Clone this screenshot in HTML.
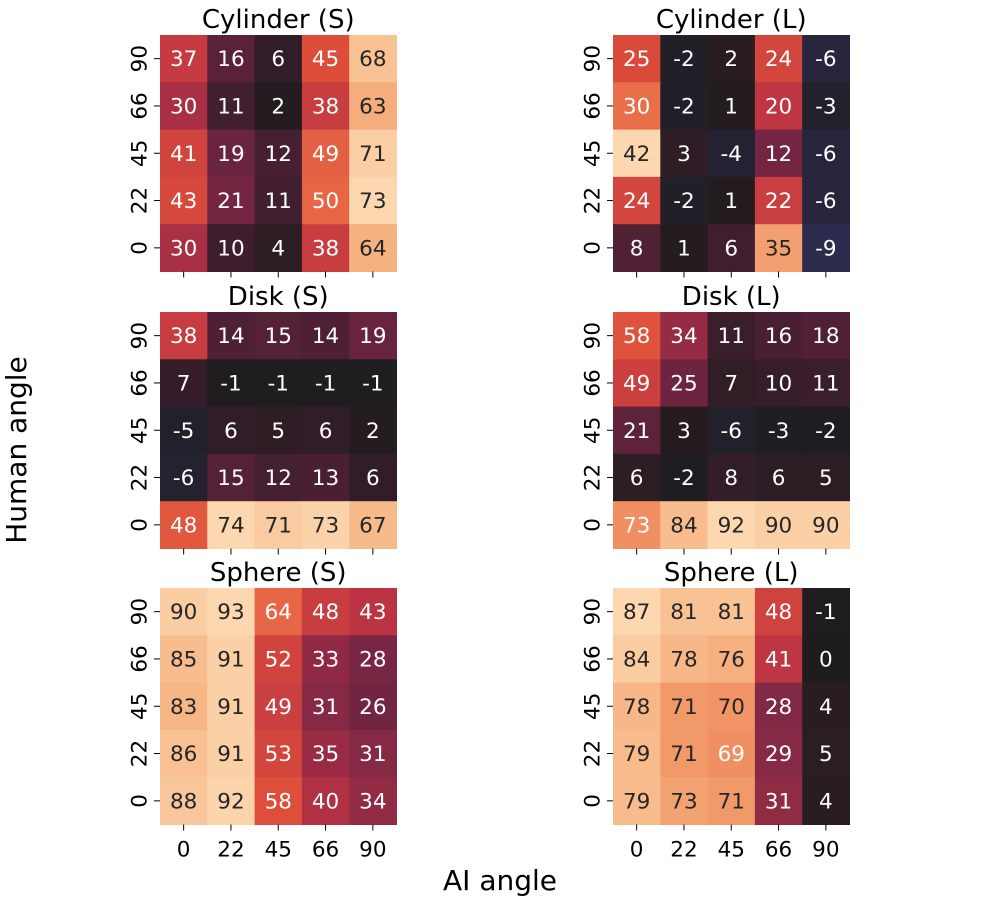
<!DOCTYPE html>
<html><head><meta charset="utf-8"><style>
body{margin:0;background:#fff;}
svg text{font-family:"DejaVu Sans","Liberation Sans",sans-serif;}
</style></head><body>
<svg id="chart" width="1000" height="900" xmlns="http://www.w3.org/2000/svg"></svg>
<script>
const xCategories = ["0","22","45","66","90"];
const yCategories = ["90","66","45","22","0"];
const panelTitles = ["Cylinder (S)","Cylinder (L)","Disk (S)","Disk (L)","Sphere (S)","Sphere (L)"];
const cylinderS = [[37,16,6,45,68],[30,11,2,38,63],[41,19,12,49,71],[43,21,11,50,73],[30,10,4,38,64]];
const cylinderL = [[25,-2,2,24,-6],[30,-2,1,20,-3],[42,3,-4,12,-6],[24,-2,1,22,-6],[8,1,6,35,-9]];
const diskS = [[38,14,15,14,19],[7,-1,-1,-1,-1],[-5,6,5,6,2],[-6,15,12,13,6],[48,74,71,73,67]];
const diskL = [[58,34,11,16,18],[49,25,7,10,11],[21,3,-6,-3,-2],[6,-2,8,6,5],[73,84,92,90,90]];
const sphereS = [[90,93,64,48,43],[85,91,52,33,28],[83,91,49,31,26],[86,91,53,35,31],[88,92,58,40,34]];
const sphereL = [[87,81,81,48,-1],[84,78,76,41,0],[78,71,70,28,4],[79,71,69,29,5],[79,73,71,31,4]];
const panelData = [cylinderS,cylinderL,diskS,diskL,sphereS,sphereL];

const NS="http://www.w3.org/2000/svg";
const svg=document.getElementById('chart');
function mk(tag,attrs,parent){const e=document.createElementNS(NS,tag);for(const k in attrs)e.setAttribute(k,attrs[k]);(parent||svg).appendChild(e);return e;}

const posStops=[[0,[30,28,28]],[0.15,[65,30,48]],[0.3,[120,38,68]],[0.45,[185,50,68]],[0.62,[222,78,58]],[0.74,[236,120,78]],[0.86,[245,172,122]],[1,[252,215,175]]];
const negStops=[[0,[30,28,28]],[0.25,[45,45,85]],[0.5,[50,70,150]],[1,[180,220,240]]];
function interp(stops,t){t=Math.max(0,Math.min(1,t));for(let i=1;i<stops.length;i++){if(t<=stops[i][0]){const a=stops[i-1],b=stops[i];const f=(t-a[0])/(b[0]-a[0]);return a[1].map((v,j)=>Math.round(v+(b[1][j]-v)*f));}}return stops[stops.length-1][1];}
function color(v,vmax){const t=v/vmax;return t>=0?interp(posStops,t):interp(negStops,-t);}
function lum(c){const l=c.map(x=>{x/=255;return x<=0.03928?x/12.92:Math.pow((x+0.055)/1.055,2.4);});return 0.2126*l[0]+0.7152*l[1]+0.0722*l[2];}

const colX=[160,613], rowY=[35,312,588], cell=47.3;
function xScale(p,i){return colX[p%2]+i*cell;}
function yScale(p,j){return rowY[Math.floor(p/2)]+j*cell;}

panelData.forEach((data,p)=>{
  const g=mk('g',{});
  
  
  const vmax=Math.max(...data.flat().map(Math.abs));
  data.forEach((row,j)=>row.forEach((v,i)=>{
    const c=color(v,vmax);
    const r=mk('rect',{x:xScale(p,i),y:yScale(p,j),width:cell+0.5,height:cell+0.5,fill:`rgb(${c})`},g);
    
    
    const t=mk('text',{x:xScale(p,i)+cell/2,y:yScale(p,j)+cell/2+7.5,'text-anchor':'middle','font-size':'21.5',fill:lum(c)>0.408?'#262626':'#fff'},g);
    t.textContent=v;
    
    
  }));
  const x0=colX[p%2], y0=rowY[Math.floor(p/2)];
  const tt=mk('text',{x:x0+cell*2.5,y:y0-7,'text-anchor':'middle','font-size':'26',fill:'#000'},g);
  tt.textContent=panelTitles[p];
  
  
  yCategories.forEach((lab,j)=>{
    const yc=yScale(p,j)+cell/2;
    mk('line',{x1:x0-6,x2:x0,y1:yc,y2:yc,stroke:'#000','stroke-width':1},g);
    const yl=mk('text',{x:x0-20,y:yc,'text-anchor':'middle','font-size':'21.5',fill:'#000',transform:`rotate(-90 ${x0-20} ${yc})`,'dominant-baseline':'central'},g);
    yl.textContent=lab;
    
    
  });
  const yb=y0+cell*5;
  xCategories.forEach((lab,i)=>{
    const xc=xScale(p,i)+cell/2;
    mk('line',{x1:xc,x2:xc,y1:yb,y2:yb+6,stroke:'#000','stroke-width':1},g);
    if(p>=4){
      const xl=mk('text',{x:xc,y:yb+32,'text-anchor':'middle','font-size':'21.5',fill:'#000'},g);
      xl.textContent=lab;
      
      
    }
  });
});
const yt=mk('text',{x:26,y:450,'text-anchor':'middle','font-size':'28',fill:'#000',transform:'rotate(-90 26 450)'});
yt.textContent='Human angle';


const xt=mk('text',{x:500,y:890,'text-anchor':'middle','font-size':'28',fill:'#000'});
xt.textContent='AI angle';


</script>
</body></html>
